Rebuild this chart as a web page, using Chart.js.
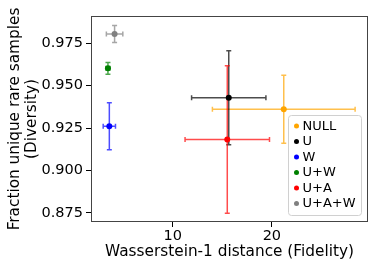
<!DOCTYPE html>
<html>
<head>
<meta charset="utf-8">
<script src="https://cdn.jsdelivr.net/npm/chart.js@4/dist/chart.umd.min.js"></script>
<style>
  html, body { margin: 0; padding: 0; background: #fff; }
  #wrap { width: 373px; height: 267px; }
</style>
</head>
<body>
<div id="wrap"><canvas id="chart" width="373" height="267"></canvas></div>
<script>
// values
const labels = ['NULL', 'U', 'W', 'U+W', 'U+A', 'U+A+W'];
const colors = ['#ffa500', '#000000', '#0000ff', '#008000', '#ff0000', '#808080'];
const fidelity = [21.2, 15.65, 3.6, 3.46, 15.5, 4.13];
const fidelityErr = [7.2, 3.75, 0.62, 0.2, 4.26, 0.83];
const diversity = [0.936, 0.9428, 0.926, 0.9601, 0.9183, 0.9803];
const diversityErr = [0.020, 0.0277, 0.0138, 0.0034, 0.0434, 0.005];
const xTicks = [10, 20];
const yTicks = [0.875, 0.9, 0.925, 0.95, 0.975];

const family = '"DejaVu Sans", sans-serif';
const tickFont = { family, size: 14.5 };
const titleFont = { family, size: 15.3, lineHeight: 1.1 };
const legendSize = 13;

function withAlpha(hex, a) {
  const n = parseInt(hex.slice(1), 16);
  return `rgba(${(n >> 16) & 255},${(n >> 8) & 255},${n & 255},${a})`;
}

const datasets = labels.map((name, i) => ({
  label: name,
  data: [{ x: fidelity[i], y: diversity[i] }],
  backgroundColor: colors[i],
  borderColor: colors[i],
  pointRadius: 3,
  pointHoverRadius: 3,
  borderWidth: 0,
  xErr: fidelityErr[i],
  yErr: diversityErr[i]
}));

// error bars, drawn through the scales
const errorBars = {
  id: 'errorBars',
  beforeDatasetsDraw(chart) {
    const { ctx, scales: { x, y } } = chart;
    const cap = 2.5;
    ctx.save();
    ctx.lineWidth = 1.5;
    chart.data.datasets.forEach(ds => {
      const p = ds.data[0];
      const px = x.getPixelForValue(p.x), py = y.getPixelForValue(p.y);
      const x0 = x.getPixelForValue(p.x - ds.xErr), x1 = x.getPixelForValue(p.x + ds.xErr);
      const y0 = y.getPixelForValue(p.y - ds.yErr), y1 = y.getPixelForValue(p.y + ds.yErr);
      ctx.strokeStyle = withAlpha(ds.borderColor, 0.7);
      ctx.beginPath();
      ctx.moveTo(x0, py); ctx.lineTo(x1, py);
      ctx.moveTo(x0, py - cap); ctx.lineTo(x0, py + cap);
      ctx.moveTo(x1, py - cap); ctx.lineTo(x1, py + cap);
      ctx.moveTo(px, y0); ctx.lineTo(px, y1);
      ctx.moveTo(px - cap, y0); ctx.lineTo(px + cap, y0);
      ctx.moveTo(px - cap, y1); ctx.lineTo(px + cap, y1);
      ctx.stroke();
    });
    ctx.restore();
  },
  afterDraw(chart) {
    const { ctx, chartArea: a } = chart;
    ctx.save();
    // frame
    ctx.strokeStyle = '#444';
    ctx.lineWidth = 1;
    ctx.strokeRect(a.left + 0.5, a.top + 0.5, a.right - a.left - 1, a.bottom - a.top - 1);
    // legend box
    const bx = 288.5, by = 115.5, bw = 73, bh = 100, r = 3;
    ctx.fillStyle = 'rgba(255,255,255,0.8)';
    ctx.strokeStyle = '#d0d0d0';
    ctx.beginPath();
    ctx.roundRect(bx, by, bw, bh, r);
    ctx.fill();
    ctx.stroke();
    ctx.font = `${legendSize}px ${family}`;
    ctx.textBaseline = 'middle';
    chart.data.datasets.forEach((ds, i) => {
      const cy = by + 10.5 + i * 15.5;
      ctx.fillStyle = ds.backgroundColor;
      ctx.beginPath();
      ctx.arc(bx + 8, cy, 2.5, 0, Math.PI * 2);
      ctx.fill();
      ctx.fillStyle = '#000';
      ctx.fillText(ds.label, bx + 14, cy + 0.5);
    });
    ctx.restore();
  }
};

new Chart(document.getElementById('chart').getContext('2d'), {
  type: 'scatter',
  data: { datasets },
  options: {
    responsive: false,
    animation: false,
    layout: { padding: { left: 0, top: 16, right: 5, bottom: 0 } },
    plugins: { legend: { display: false }, tooltip: { enabled: false } },
    scales: {
      x: {
        min: 1.75,
        max: 29.7,
        afterBuildTicks: s => { s.ticks = xTicks.map(v => ({ value: v })); },
        afterFit: s => { s.height = 45; },
        grid: { drawOnChartArea: false, drawTicks: true, tickLength: 5, color: '#000', tickColor: '#000' },
        border: { display: false },
        ticks: { color: '#000', font: tickFont, padding: 1, maxRotation: 0 },
        title: { display: true, text: 'Wasserstein-1 distance (Fidelity)', color: '#000', font: titleFont, padding: { top: 0, bottom: 6.5 } }
      },
      y: {
        min: 0.8697,
        max: 0.9909,
        afterBuildTicks: s => { s.ticks = yTicks.map(v => ({ value: v })); },
        afterFit: s => { s.width = 91; },
        grid: { drawOnChartArea: false, drawTicks: true, tickLength: 5, color: '#000', tickColor: '#000' },
        border: { display: false },
        ticks: { color: '#000', font: tickFont, padding: 3, callback: v => v.toFixed(3) },
        title: { display: true, text: ['Fraction unique rare samples', '(Diversity)'], color: '#000', font: titleFont, padding: { top: 6.5, bottom: 0 } }
      }
    }
  },
  plugins: [errorBars]
});
</script>
</body>
</html>
